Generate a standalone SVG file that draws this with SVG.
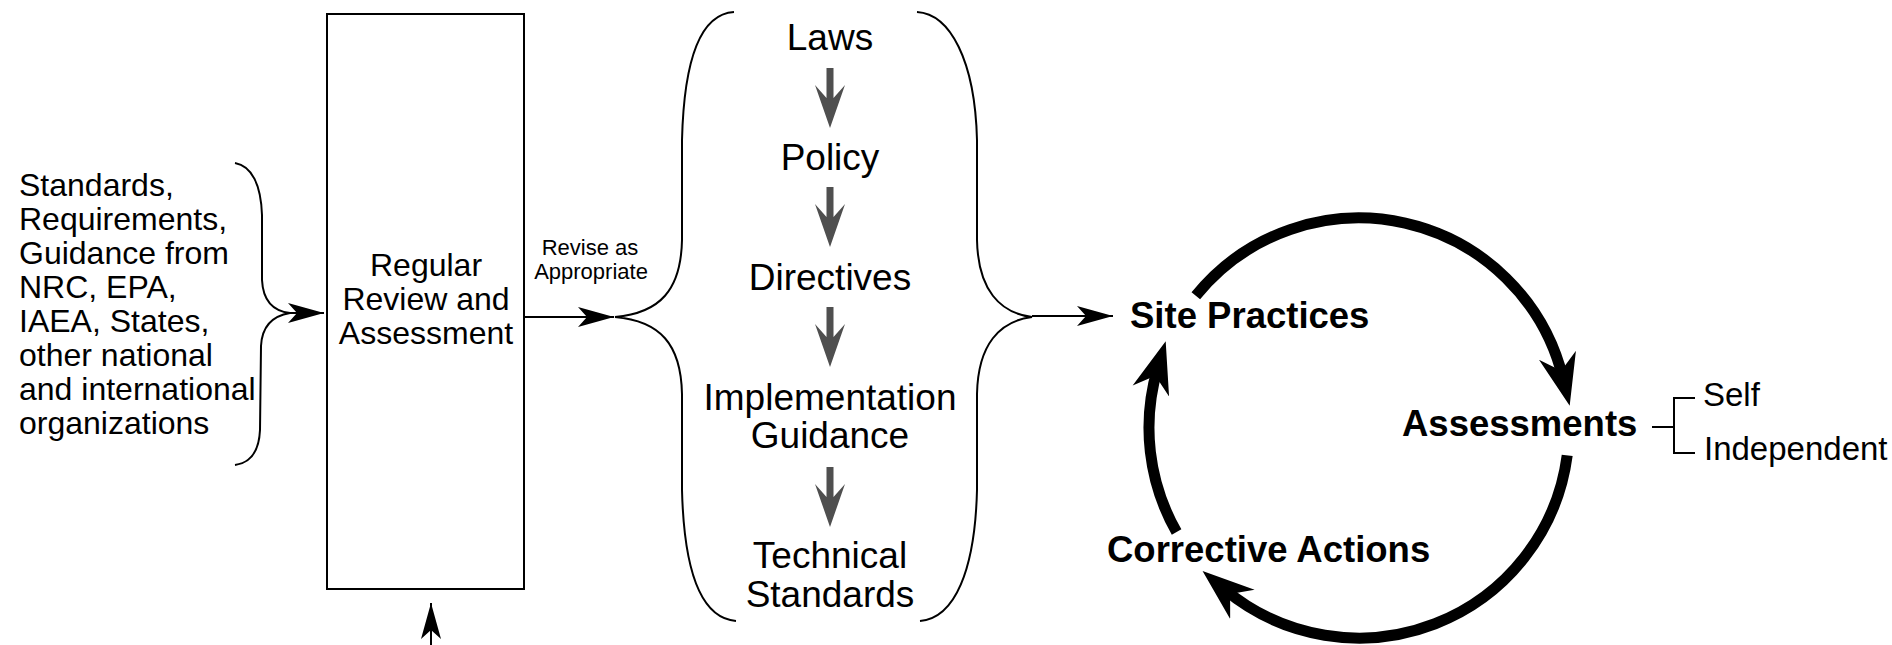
<svg xmlns="http://www.w3.org/2000/svg" width="1892" height="645" viewBox="0 0 1892 645">
<style>
  text { font-family: "Liberation Sans", Arial, Helvetica, sans-serif; fill: #000; }
  .src { font-size: 32px; }
  .box { font-size: 32px; text-anchor: middle; }
  .lbl { font-size: 22px; text-anchor: middle; }
  .mid { font-size: 37px; text-anchor: middle; }
  .cyc { font-size: 36.5px; font-weight: bold; }
  .sub { font-size: 33px; }
  .thin { fill: none; stroke: #000; stroke-width: 2; }
  .arc { fill: none; stroke: #000; stroke-width: 11; }
  .gray { fill: #4f4f4f; }
</style>
<defs>
  <marker id="ah" markerUnits="userSpaceOnUse" markerWidth="40" markerHeight="24" viewBox="0 -12 40 24" refX="36" refY="0" orient="auto">
    <path d="M0,-10 L36,0 L0,10 L9,0 Z" fill="#000"/>
  </marker>
  <marker id="big" markerUnits="userSpaceOnUse" markerWidth="56" markerHeight="40" viewBox="0 -20 56 40" refX="24" refY="0" orient="auto">
    <path d="M0,-19 L52,0 L0,19 L16,0 Z" fill="#000"/>
  </marker>
  <path id="garrow" class="gray" d="M-3.5,0 L3.5,0 L3.5,30 L15,17 L0,60 L-15,17 L-3.5,30 Z"/>
</defs>

<g id="sources">
  <text class="src" x="19" y="196">Standards,</text>
  <text class="src" x="19" y="230">Requirements,</text>
  <text class="src" x="19" y="264">Guidance from</text>
  <text class="src" x="19" y="298">NRC, EPA,</text>
  <text class="src" x="19" y="332">IAEA, States,</text>
  <text class="src" x="19" y="366">other national</text>
  <text class="src" x="19" y="400">and international</text>
  <text class="src" x="19" y="434">organizations</text>
</g>

<g id="review">
  <rect x="327" y="14" width="197" height="575" class="thin"/>
  <text class="box" x="426" y="276">Regular</text>
  <text class="box" x="426" y="310">Review and</text>
  <text class="box" x="426" y="344">Assessment</text>
</g>

<g id="revise-label">
  <text class="lbl" x="590" y="255">Revise as</text>
  <text class="lbl" x="591" y="279">Appropriate</text>
</g>

<g id="hierarchy">
  <text class="mid" x="830" y="50">Laws</text>
  <text class="mid" x="830" y="170">Policy</text>
  <text class="mid" x="830" y="290">Directives</text>
  <text class="mid" x="830" y="410">Implementation</text>
  <text class="mid" x="830" y="448">Guidance</text>
  <text class="mid" x="830" y="568">Technical</text>
  <text class="mid" x="830" y="607">Standards</text>
  <use href="#garrow" x="830" y="68"/>
  <use href="#garrow" x="830" y="187"/>
  <use href="#garrow" x="830" y="307"/>
  <use href="#garrow" x="830" y="467"/>
</g>

<g id="site-practices">
  <text class="cyc" x="1130" y="328">Site Practices</text>
</g>
<g id="assessments">
  <text class="cyc" x="1402" y="436">Assessments</text>
</g>
<g id="corrective-actions">
  <text class="cyc" x="1107" y="562">Corrective Actions</text>
</g>
<g id="assessment-types">
  <path class="thin" d="M1652,427 L1674,427 M1695,398 L1674,398 L1674,453 L1695,453"/>
  <text class="sub" x="1703" y="406">Self</text>
  <text class="sub" x="1704" y="460">Independent</text>
</g>

<g id="connectors">
  <path class="thin" d="M235,163 C252,166 261,185 262,215 L262,280 C263,300 272,311 290,313 C272,316 262,326 261,346 L260,430 C259,452 250,463 235,465"/>
  <line class="thin" x1="290" y1="313" x2="324" y2="313" marker-end="url(#ah)"/>
  <line class="thin" x1="524" y1="317" x2="614" y2="317" marker-end="url(#ah)"/>
  <line class="thin" x1="431" y1="645" x2="431" y2="603" marker-end="url(#ah)"/>
  <path class="thin" d="M734,12 C700,14 684,60 682,140 L682,240 C681,290 660,313 615,317 C660,321 681,344 682,394 L682,490 C684,570 700,618 736,621"/>
  <path class="thin" d="M917,12 C950,14 975,60 977,140 L977,240 C978,290 1000,313 1032,317 C1000,321 978,344 977,394 L977,490 C975,570 955,618 920,621"/>
  <line class="thin" x1="1032" y1="316" x2="1113" y2="316" marker-end="url(#ah)"/>
  <path class="arc" d="M1195.8,295.8 A210,210 0 0 1 1563.1,378.6" marker-end="url(#big)"/>
  <path class="arc" d="M1567.2,455.4 A210,210 0 0 1 1224.0,588.9" marker-end="url(#big)"/>
  <path class="arc" d="M1176.6,532.0 A210,210 0 0 1 1157.7,368.0" marker-end="url(#big)"/>
</g>
</svg>
